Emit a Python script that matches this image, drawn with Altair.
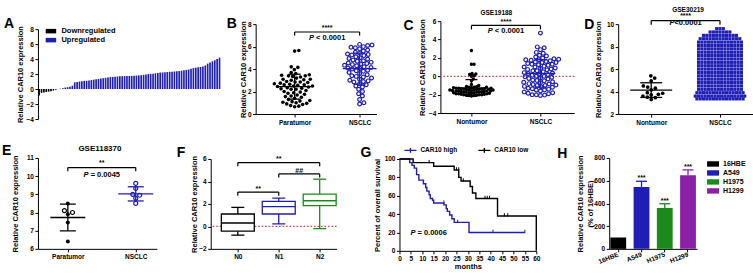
import math
import altair as alt
import pandas as pd

FONT = "Liberation Sans"
BLUE = "#1e1eb4"
GREEN = "#1b8a1b"
PURPLE = "#8b22a6"
RED = "#e23b3b"
BLACK = "#000000"
LFS = 6.5
TFS = 7.5

# ------------------------------------------------------------------ data
ytitle = "Relative CAR10 expression"

a_classes = ["Downregulated", "Upregulated"]
a_values = [-0.85, -0.5, -0.45, -0.4, -0.35, -0.3, -0.2, -0.1,
            0.02, 0.05, 0.1, 0.2, 0.25, 0.3, 0.45,
            0.9, 0.95, 1.0, 1.05, 1.1, 1.1, 1.15, 1.2, 1.25, 1.3, 1.35, 1.4,
            1.45, 1.5, 1.55, 1.6, 1.62, 1.65, 1.68, 1.7,
            1.72, 1.73, 1.74, 1.75, 1.76, 1.78, 1.8, 1.82, 1.85, 1.9,
            1.95, 2.0, 2.02, 2.05, 2.1, 2.15, 2.2,
            2.22, 2.25, 2.27, 2.3, 2.32, 2.35, 2.38, 2.4, 2.45, 2.5, 2.55, 2.6,
            2.7, 2.8, 2.85, 2.9, 2.95,
            3.0, 3.15, 3.4, 3.55, 3.7, 3.85, 4.0, 4.2]

b_cats = ["Paratumor", "NSCLC"]
b_para = [5.65, 5.6, 4.2, 4.15, 3.95, 3.7, 3.6, 3.5, 3.45, 3.4, 3.4, 3.35, 3.3, 3.2, 3.1,
          3.1, 3.05, 3.0, 2.9, 2.85, 2.85, 2.8, 2.75, 2.7, 2.65, 2.6, 2.6, 2.55, 2.5, 2.5,
          2.45, 2.4, 2.35, 2.3, 2.25, 2.2, 2.2, 2.1, 2.0, 1.95, 1.9, 1.85, 1.75, 1.7, 1.6,
          1.55, 1.5, 1.4, 1.3, 1.2, 1.15, 1.1, 1.05, 1.0, 0.95, 0.9, 0.85, 0.75, 0.7, 0.65]
b_nsclc = [6.2, 6.15, 6.1, 6.0, 5.95, 5.9, 5.8, 5.7, 5.6, 5.5, 5.4, 5.35, 5.3, 5.25, 5.2,
           5.1, 5.0, 4.95, 4.9, 4.8, 4.75, 4.7, 4.6, 4.55, 4.5, 4.45, 4.4, 4.35, 4.3, 4.2,
           4.15, 4.1, 4.05, 4.0, 3.9, 3.85, 3.8, 3.7, 3.6, 3.5, 3.4, 3.35, 3.3, 3.2, 3.1,
           3.0, 2.9, 2.85, 2.7, 2.6, 2.5, 2.4, 2.2, 2.0, 1.8, 1.6, 1.3, 1.0, 0.9, 2.95]
b_sig = ["****", "< 0.0001"]

c_title = "GSE19188"
c_cats = ["Nontumor", "NSCLC"]
c_non = [2.8, 1.3, 1.3, 0.3, 0.25, 0.2, 0.05, 0.0, -0.3, -0.5, -0.9, -1.0,
         -1.1, -1.15, -1.2, -1.2, -1.25, -1.25, -1.3, -1.3, -1.3, -1.35, -1.35, -1.4, -1.4,
         -1.4, -1.45, -1.45, -1.5, -1.5, -1.5, -1.5, -1.55, -1.55, -1.6, -1.6, -1.6, -1.65,
         -1.65, -1.7, -1.7, -1.7, -1.75, -1.75, -1.8, -1.8, -1.8, -1.85, -1.85, -1.9, -1.9,
         -1.9, -1.95, -1.95, -2.0, -2.0, -2.0, -2.05, -2.05, -2.1, -2.1, -2.15, -1.4, -1.6, -1.2]
c_nsclc = [4.7, 3.2, 3.1, 2.9, 2.6, 2.5, 2.3, 2.2, 2.1, 2.0, 1.9, 1.85, 1.8, 1.8, 1.7, 1.6,
           1.5, 1.5, 1.4, 1.3, 1.3, 1.2, 1.1, 1.0, 1.0, 0.9, 0.85, 0.8, 0.7, 0.6, 0.6, 0.5,
           0.4, 0.35, 0.3, 0.2, 0.1, 0.0, 0.0, -0.05, -0.1, -0.2, -0.3, -0.4, -0.45, -0.5,
           -0.6, -0.65, -0.7, -0.8, -0.85, -0.9, -1.0, -1.0, -1.1, -1.15, -1.2, -1.3, -1.35,
           -1.4, -1.5, -1.5, -1.6, -1.7, -1.8, -1.85, -1.9, -2.0, -2.0, -2.05, -2.1, 1.55,
           1.75, 0.25, -0.95, 1.25, 0.75, -0.25]
c_sig = ["****", "< 0.0001"]

d_title = "GSE30219"
d_cats = ["Nontumor", "NSCLC"]
d_non = [5.4, 5.2, 4.95, 4.5, 4.4, 4.3, 4.15, 3.9, 3.85, 3.75, 3.7, 3.6, 3.5, 3.45, 3.3]
d_nsclc_levels = [9.6, 9.3, 9.0, 8.7, 8.4, 8.1, 7.8, 7.5, 7.2, 6.9, 6.6, 6.3, 6.0, 5.7,
                  5.4, 5.1, 4.8, 4.5, 4.2, 3.9, 3.6, 3.35]
d_nsclc_counts = [3, 7, 11, 13, 14, 14, 14, 14, 14, 14, 14, 14, 14, 14,
                  14, 14, 14, 14, 14, 15, 16, 15]
d_nsclc = [v for v, n in zip(d_nsclc_levels, d_nsclc_counts) for _ in range(n)]
d_sig = ["****", "<0.0001"]

e_title = "GSE118370"
e_cats = ["Paratumor", "NSCLC"]
e_para_filled = [8.5, 7.9, 7.45, 6.4]
e_para_open = [8.1, 8.0]
e_nsclc = [9.32, 9.6, 9.0, 8.95, 8.78, 8.5]
e_sig = ["**", "= 0.0045"]

f_stages = ["N0", "N1", "N2"]
f_min = [-0.78, 0.22, -0.2]
f_q1 = [-0.43, 1.1, 1.84]
f_med = [0.3, 1.75, 2.28]
f_q3 = [1.1, 2.22, 2.87]
f_max = [1.69, 2.52, 4.2]
f_sig = ["**", "##", "**"]

g_groups = ["CAR10 high", "CAR10 low"]
g_high_t = [0, 4.5, 5.5, 6.5, 7.5, 8.5, 10.5, 11.5, 12, 13, 13.5, 14.5, 15, 19.5, 20.5,
            21, 22, 23, 24, 30.5, 55]
g_high_s = [100, 96, 93, 90, 83, 77, 73, 69, 65, 61, 57, 55, 52, 50, 46, 43, 39, 35, 31, 20, 20]
g_low_t = [0, 6, 15, 24, 26, 27, 31, 32, 33.5, 43, 60, 60]
g_low_s = [100, 96, 92, 88, 80, 76, 70, 63, 57, 38, 38, 0]
g_high_cens_t = [19.5, 25.5, 41, 55]
g_high_cens_s = [52, 31, 20, 20]
g_low_cens_t = [13, 25, 26, 28, 37.5, 38.5, 39.5, 46, 47.5]
g_low_cens_s = [96, 88, 88, 76, 57, 57, 57, 38, 38]
g_p = "= 0.0006"

h_cells = ["16HBE", "A549", "H1975", "H1299"]
h_mean = [100, 545, 360, 648]
h_err = [0, 50, 37, 47]
h_marks = ["", "***", "***", "***"]

# ------------------------------------------------------------------ helpers
CW = {"P": .667, " ": .278, "<": .584, "=": .584, ".": .278}


def text_w(s, fs):
    return sum(CW.get(ch, .556) for ch in s) * fs


def swarm(vals, ppy, d):
    order = sorted(range(len(vals)), key=lambda i: vals[i])
    placed, out = [], [0.0] * len(vals)
    for i in order:
        y = vals[i] * ppy
        cands = [0.0]
        for px, py in placed:
            dy = abs(y - py)
            if dy < d:
                dx = math.sqrt(d * d - dy * dy)
                cands += [px + dx, px - dx]
        cands.sort(key=lambda c: (round(abs(c), 6), -c))
        chosen = None
        for c in cands:
            if all((c - px) ** 2 + (y - py) ** 2 >= d * d - 1e-6 for px, py in placed):
                chosen = c
                break
        if chosen is None:
            chosen = max([abs(p[0]) for p in placed] + [0]) + d
        placed.append((chosen, y))
        out[i] = chosen
    return out


def row_offsets(vals, d):
    counts, seen, out = {}, {}, []
    for v in vals:
        counts[v] = counts.get(v, 0) + 1
    for v in vals:
        j = seen.get(v, 0)
        seen[v] = j + 1
        out.append((j - (counts[v] - 1) / 2) * d)
    return out


def y_axis(values, title, tx, lh=None):
    kw = dict(values=values, title=title, titleX=-tx, titleBaseline="middle",
              labelFlush=False, labelOverlap=False)
    if lh:
        kw["titleLineHeight"] = lh
    return alt.Axis(**kw)


def cat_axis(cats):
    expr = "''"
    for i in reversed(range(len(cats))):
        expr = f"datum.value == {i} ? '{cats[i]}' : " + expr
    return alt.Axis(values=list(range(len(cats))), labelExpr=expr, title=None,
                    labelFlush=False, labelOverlap=False, labelPadding=2)


def frame_layers(letter, lx, ly, left):
    lay = [alt.Chart(pd.DataFrame({"t": [letter]})).mark_text(
        align="left", baseline="alphabetic", font=FONT, fontSize=14, fontWeight="bold",
        color=BLACK).encode(x=alt.value(lx), y=alt.value(ly), text="t:N")]
    if left > -lx:
        lay.append(alt.Chart(pd.DataFrame({"t": [0]})).mark_rule(opacity=0).encode(
            x=alt.value(-left), x2=alt.value(0), y=alt.value(0)))
    return lay


def title_layer(text, fs, cx, offset):
    return alt.Chart(pd.DataFrame({"t": [text]})).mark_text(
        align="center", baseline="bottom", font=FONT, fontSize=fs, fontWeight="bold",
        color=BLACK).encode(x=alt.value(cx), y=alt.value(-offset), text="t:N")


def p_layers(x, y, rest, gap, X, Y, fs=7.5, center=True):
    wp = text_w("P", fs)
    total = wp + gap * fs + text_w(rest, fs)
    start = -total / 2 if center else 0
    df = pd.DataFrame({"x": [x], "y": [y], "p": ["P"], "r": [rest]})
    kw = dict(font=FONT, fontSize=fs, fontWeight="bold", color=BLACK, baseline="middle",
              align="left")
    return [alt.Chart(df).mark_text(dx=start, fontStyle="italic", **kw).encode(
                x=X("x"), y=Y("y"), text="p:N"),
            alt.Chart(df).mark_text(dx=start + wp + gap * fs, **kw).encode(
                x=X("x"), y=Y("y"), text="r:N")]


def bracket_layer(spec, X, Y):
    rows = []
    for x0, x1, yt, yb in spec:
        rows += [dict(x=x0, x2=x1, y=yt, y2=yt), dict(x=x0, x2=x0, y=yb, y2=yt),
                 dict(x=x1, x2=x1, y=yb, y2=yt)]
    return alt.Chart(pd.DataFrame(rows)).mark_rule(color=BLACK, strokeWidth=1.2).encode(
        x=X("x"), x2="x2:Q", y=Y("y"), y2="y2:Q")


def stars_layer(spec, X, Y, fs=7):
    df = pd.DataFrame(spec, columns=["x", "y", "t"])
    return alt.Chart(df).mark_text(font=FONT, fontSize=fs, fontWeight="bold", color=BLACK,
                                   baseline="middle").encode(x=X("x"), y=Y("y"), text="t:N")


def dot_panel(letter, lx, ly, left, cats, groups, width, height, ydom, yticks, ytx, xdom,
              yrange=None, brackets=(), stars=(), ptext=None, title=None, refline=False):
    xs = alt.Scale(domain=xdom, nice=False, zero=False)
    ysk = dict(domain=ydom, nice=False, zero=False)
    if yrange:
        ysk["range"] = yrange
    ys = alt.Scale(**ysk)
    xa = cat_axis(cats)
    ya = y_axis(yticks, ytitle, ytx)
    X = lambda f: alt.X(f + ":Q", scale=xs, axis=xa)
    Y = lambda f: alt.Y(f + ":Q", scale=ys, axis=ya)
    ppx = width / (xdom[1] - xdom[0])
    span = (yrange[0] - yrange[1]) if yrange else height
    ppy = span / (ydom[1] - ydom[0])
    layers = []
    if refline:
        layers.append(alt.Chart(pd.DataFrame({"y": [0]})).mark_rule(
            color=RED, strokeDash=[1.5, 2], strokeWidth=1.2).encode(y=Y("y")))
    for g in groups:
        allv = [v for vals, _ in g["sets"] for v in vals]
        offs = row_offsets(allv, g["d"]) if g.get("rows") else swarm(allv, ppy, g["d"])
        k = 0
        for vals, style in g["sets"]:
            df = pd.DataFrame({"v": vals,
                               "x": [g["idx"] + o / ppx for o in offs[k:k + len(vals)]]})
            k += len(vals)
            ch = alt.Chart(df)
            if style == "filled":
                m = ch.mark_circle(size=g["size"], color=g["color"], opacity=1)
            elif style == "open":
                m = ch.mark_point(shape="circle", filled=False, size=g["size"],
                                  strokeWidth=1.2, color=g["color"], opacity=1)
            else:
                m = ch.mark_square(size=g["size"], color=g["color"], opacity=1)
            layers.append(m.encode(x=X("x"), y=Y("v")))
        if g.get("mean"):
            mw, cw = g["mean"]
            agg = alt.Chart(pd.DataFrame({"v": allv})).transform_aggregate(
                m="mean(v)", sd="stdev(v)").transform_calculate(
                lo="datum.m - datum.sd", hi="datum.m + datum.sd", gx=str(g["idx"]))
            tk = dict(orient="horizontal", color=g["color"], opacity=1, thickness=1.3)
            layers += [
                agg.mark_rule(color=g["color"], strokeWidth=1.3).encode(
                    x=X("gx"), y=Y("lo"), y2="hi:Q"),
                agg.mark_tick(size=mw, **tk).encode(x=X("gx"), y=Y("m")),
                agg.mark_tick(size=cw, **tk).encode(x=X("gx"), y=Y("lo")),
                agg.mark_tick(size=cw, **tk).encode(x=X("gx"), y=Y("hi")),
            ]
    if brackets:
        layers.append(bracket_layer(brackets, X, Y))
    if stars:
        layers.append(stars_layer(stars, X, Y))
    if ptext:
        layers += p_layers(*ptext, X, Y)
    if title:
        text, fs, dx, off = title
        layers.append(title_layer(text, fs, width / 2 + dx, off))
    layers += frame_layers(letter, lx, ly, left)
    return alt.layer(*layers).properties(width=width, height=height)


def indep(ch):
    return ch.resolve_scale(color="independent", stroke="independent",
                            fill="independent").resolve_legend(
        color="independent", stroke="independent", fill="independent")


# ------------------------------------------------------------------ A
a_df = pd.DataFrame({"i": list(range(len(a_values))), "v": a_values,
                     "cls": [a_classes[0] if v < 0 else a_classes[1] for v in a_values]})
a_chart = alt.layer(
    alt.Chart(a_df).mark_bar().encode(
        x=alt.X("i:O", axis=None, scale=alt.Scale(paddingInner=0.3, paddingOuter=0.15)),
        y=alt.Y("v:Q", scale=alt.Scale(domain=[-4, 8], range=[98, 8], nice=False),
                axis=y_axis(list(range(-4, 9, 2)), ytitle, 17.5)),
        color=alt.Color("cls:N", scale=alt.Scale(domain=a_classes, range=[BLACK, BLUE]),
                        legend=alt.Legend(title=None, orient="none", legendX=7.5, legendY=4.5,
                                          symbolType="M-1,-0.43H1V0.43H-1Z", symbolSize=110,
                                          symbolStrokeWidth=0, labelFontSize=7.5,
                                          labelFontWeight="bold", labelOffset=5,
                                          rowPadding=0, padding=0))),
    *frame_layers("A", -34, 7, 34)
).properties(width=183, height=98)

# ------------------------------------------------------------------ B, C, D, E
b_chart = dot_panel(
    "B", -29, 7, 35, b_cats,
    [dict(idx=0, sets=[(b_para, "filled")], color=BLACK, size=13, d=4.2, mean=(34, 12)),
     dict(idx=1, sets=[(b_nsclc, "open")], color=BLUE, size=14, d=4.4, mean=(34, 12))],
    121, 93, [0, 8], [0, 2, 4, 6, 8], 12.5, [-0.6, 1.26], yrange=[93, 3],
    brackets=[(0, 1, 7.3, 6.98)], stars=[(0.5, 7.62, b_sig[0])],
    ptext=(0.5, 6.8, b_sig[1], 0.278))

c_chart = dot_panel(
    "C", -37, 9, 63, c_cats,
    [dict(idx=0, sets=[(c_non, "filled")], color=BLACK, size=12, d=2.6, mean=(30, 12)),
     dict(idx=1, sets=[(c_nsclc, "open")], color=BLUE, size=14, d=4.2, mean=(30, 12))],
    134, 92, [-4, 6], [-4, -2, 0, 2, 4, 6], 17.5, [-0.45, 1.49],
    brackets=[(0, 1, 5.53, 5.1)], stars=[(0.5, 5.95, c_sig[0])],
    ptext=(0.5, 4.95, c_sig[1], 0.278), refline=True,
    title=(c_title, 6.5, -11, 5.5))

d_chart = dot_panel(
    "D", -34, 8, 43, d_cats,
    [dict(idx=0, sets=[(d_non, "filled")], color=BLACK, size=14, d=4.5, mean=(42, 22)),
     dict(idx=1, sets=[(d_nsclc, "square")], color=BLUE, size=10, d=3.3, rows=True)],
    135, 93, [2, 10], [2, 4, 6, 8, 10], 20, [-0.48, 1.48], yrange=[93, 3],
    brackets=[(0, 1, 10.32, 9.95)], stars=[(0.5, 10.75, d_sig[0])],
    ptext=(0.5, 10.08, d_sig[1], 0.0),
    title=(d_title, 6.5, 2.5, 8.5))

e_chart = dot_panel(
    "E", -36, -3, 36, e_cats,
    [dict(idx=0, sets=[(e_para_filled, "filled"), (e_para_open, "open")], color=BLACK,
          size=16, d=5, mean=(35, 16)),
     dict(idx=1, sets=[(e_nsclc, "open")], color=BLUE, size=16, d=5, mean=(35, 16))],
    119, 91, [6, 11], [6, 7, 8, 9, 10, 11], 22.5, [-0.44, 1.31],
    brackets=[(0, 1, 10.47, 10.27)], stars=[(0.5, 10.75, e_sig[0])],
    ptext=(0.5, 10.05, e_sig[1], 0.278),
    title=(e_title, 8, 2.5, 4.5))

# ------------------------------------------------------------------ F
f_df = pd.DataFrame({"x": list(range(len(f_stages))), "g": f_stages, "mn": f_min,
                     "q1": f_q1, "md": f_med, "q3": f_q3, "mx": f_max})
fxs = alt.Scale(domain=[-0.54, 2.29], nice=False, zero=False)
fys = alt.Scale(domain=[-2, 6], range=[91, 1], nice=False, zero=False)
fxa = cat_axis(f_stages)
fya = y_axis([-2, 0, 2, 4, 6], ytitle, 16.5)
FX = lambda f: alt.X(f + ":Q", scale=fxs, axis=fxa)
FY = lambda f: alt.Y(f + ":Q", scale=fys, axis=fya)
fcs = alt.Scale(domain=f_stages, range=[BLACK, BLUE, GREEN])
fcol = alt.Color("g:N", scale=fcs, legend=None)
fb = alt.Chart(f_df)
ftk = dict(orient="horizontal", opacity=1, thickness=1.3)
f_layers = [
    alt.Chart(pd.DataFrame({"y": [0]})).mark_rule(color=RED, strokeDash=[1.5, 2],
                                                  strokeWidth=1.2).encode(y=FY("y")),
    fb.mark_rule(strokeWidth=1.3).encode(x=FX("x"), y=FY("mn"), y2="q1:Q", color=fcol),
    fb.mark_rule(strokeWidth=1.3).encode(x=FX("x"), y=FY("q3"), y2="mx:Q", color=fcol),
    fb.mark_bar(size=33, fill="white", strokeWidth=1.3).encode(
        x=FX("x"), y=FY("q1"), y2="q3:Q", stroke=alt.Stroke("g:N", scale=fcs, legend=None)),
    fb.mark_tick(size=33, **ftk).encode(x=FX("x"), y=FY("md"), color=fcol),
    fb.mark_tick(size=13, **ftk).encode(x=FX("x"), y=FY("mn"), color=fcol),
    fb.mark_tick(size=13, **ftk).encode(x=FX("x"), y=FY("mx"), color=fcol),
    bracket_layer([(0, 1, 3.05, 2.72), (1, 2, 4.67, 4.35), (0, 2, 5.68, 5.35)], FX, FY),
    stars_layer([(0.5, 3.35, f_sig[0]), (1.5, 4.97, f_sig[1]), (1.0, 5.98, f_sig[2])], FX, FY),
] + frame_layers("F", -34, -1, 54)
f_chart = alt.layer(*f_layers).properties(width=126, height=91)

# ------------------------------------------------------------------ G
g_df = pd.concat([
    pd.DataFrame({"t": g_high_t, "s": g_high_s, "grp": g_groups[0]}),
    pd.DataFrame({"t": g_low_t, "s": g_low_s, "grp": g_groups[1]})], ignore_index=True)
g_df["k"] = list(range(len(g_df)))
gxs = alt.Scale(domain=[0, 60], nice=False, zero=False)
gys = alt.Scale(domain=[0, 100], range=[93, 1], nice=False, zero=False)
gxa = alt.Axis(values=list(range(0, 61, 5)), title="months", titlePadding=1,
               labelFlush=False, labelOverlap=False)
gya = y_axis([0, 20, 40, 60, 80, 100], "Percent of overall survival", 21.5)
GX = lambda f: alt.X(f + ":Q", scale=gxs, axis=gxa)
GY = lambda f: alt.Y(f + ":Q", scale=gys, axis=gya)
g_layers = [
    alt.Chart(g_df).mark_line(interpolate="step-after", strokeWidth=1.4).encode(
        x=GX("t"), y=GY("s"), order="k:Q",
        color=alt.Color("grp:N", scale=alt.Scale(domain=g_groups, range=[BLUE, BLACK]),
                        legend=alt.Legend(title=None, orient="none", legendX=4, legendY=-15,
                                          direction="horizontal",
                                          symbolType="M-1,0H1M0,-0.4V0.4", symbolSize=144,
                                          symbolStrokeWidth=1.4, labelFontSize=6.5,
                                          labelFontWeight="bold", labelOffset=3,
                                          columnPadding=18, padding=0))),
]
for ct, cs, col in [(g_high_cens_t, g_high_cens_s, BLUE), (g_low_cens_t, g_low_cens_s, BLACK)]:
    g_layers.append(alt.Chart(pd.DataFrame({"t": ct, "s": cs})).mark_point(
        shape="M0,-1V0.2", size=30, filled=False, strokeWidth=1, color=col, opacity=1).encode(
        x=GX("t"), y=GY("s")))
g_layers += p_layers(4.8, 19, g_p, 0.278, GX, GY, center=False)
g_layers += frame_layers("G", -39, -1, 62)
g_chart = alt.layer(*g_layers).properties(width=137, height=93)

# ------------------------------------------------------------------ H
h_df = pd.DataFrame({"cell": h_cells, "v": h_mean,
                     "hi": [m + e for m, e in zip(h_mean, h_err)], "mk": h_marks})
hcs = alt.Scale(domain=h_cells, range=[BLACK, BLUE, GREEN, PURPLE])
hx = alt.X("cell:N", sort=h_cells, scale=alt.Scale(paddingInner=0.32, paddingOuter=0.05),
           axis=alt.Axis(title=None, labelAngle=338, labelAlign="right",
                         labelBaseline="middle", labelPadding=2))
hys = alt.Scale(domain=[0, 800], nice=False)
hya = y_axis([0, 200, 400, 600, 800], [ytitle, "(% of 16HBE)"], 28.5, lh=10)
HY = lambda f: alt.Y(f + ":Q", scale=hys, axis=hya)
hb = alt.Chart(h_df)
h_layers = [
    hb.mark_bar().encode(
        x=hx, y=HY("v"),
        color=alt.Color("cell:N", scale=hcs, sort=h_cells,
                        legend=alt.Legend(title=None, orient="none", legendX=98, legendY=0,
                                          symbolType="M-1,-0.45H1V0.45H-1Z", symbolSize=144,
                                          symbolStrokeWidth=0, labelFontSize=7,
                                          labelFontWeight="bold", labelOffset=4,
                                          rowPadding=0, padding=0))),
    hb.transform_filter("datum.hi > datum.v").mark_rule(strokeWidth=1.3).encode(
        x=hx, y=HY("v"), y2="hi:Q", stroke=alt.Stroke("cell:N", scale=hcs, legend=None)),
    hb.transform_filter("datum.hi > datum.v").mark_tick(size=11, thickness=1.3, opacity=1).encode(
        x=hx, y=HY("hi"), fill=alt.Fill("cell:N", scale=hcs, legend=None)),
    hb.transform_filter("datum.mk != ''").mark_text(
        baseline="bottom", dy=0, font=FONT, fontSize=7, fontWeight="bold", color=BLACK).encode(
        x=hx, y=HY("hi"), text="mk:N"),
] + frame_layers("H", -52, 0, 69)
h_chart = alt.layer(*h_layers).properties(width=88, height=91)

# ------------------------------------------------------------------ layout
row1 = indep(alt.hconcat(a_chart, b_chart, c_chart, d_chart, spacing=0))
row2 = indep(alt.hconcat(e_chart, f_chart, g_chart, h_chart, spacing=0))
chart = indep(alt.vconcat(row1, row2, spacing=17)).properties(
    padding={"left": 2, "top": 6, "right": 0, "bottom": 0})
chart = chart.configure(font=FONT, background="white").configure_view(stroke=None).configure_axis(
    domainColor=BLACK, domainWidth=1, tickColor=BLACK, tickWidth=1, tickSize=3,
    labelColor=BLACK, labelFont=FONT, labelFontSize=LFS, labelFontWeight="bold",
    labelPadding=1.5, titleFont=FONT, titleFontSize=TFS, titleFontWeight="bold",
    titleColor=BLACK, grid=False).configure_legend(labelFont=FONT, labelColor=BLACK)

chart.save("out.html", embed_options={"renderer": "svg", "actions": False})
